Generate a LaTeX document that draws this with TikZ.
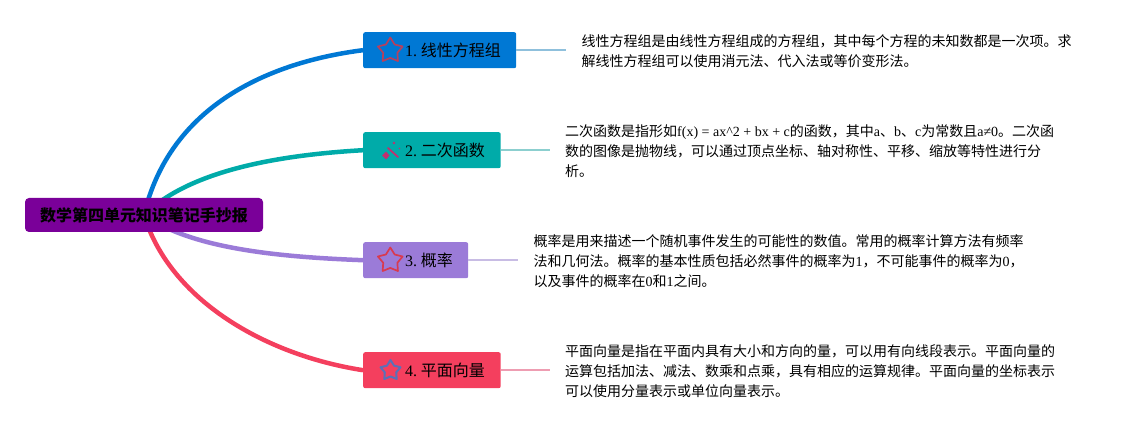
\documentclass[tikz,border=0pt]{standalone}
\usepackage{fontspec}
\setmainfont{Liberation Serif}
\newfontfamily\cjkf{Noto Sans CJK SC}
\newcommand\Z[1]{{\cjkf #1}}
\usetikzlibrary{shapes.geometric,backgrounds}
\definecolor{cblue}{HTML}{0078D4}
\definecolor{cteal}{HTML}{00ABA9}
\definecolor{cpurp}{HTML}{9B7BD8}
\definecolor{cred}{HTML}{F43F5E}
\definecolor{croot}{HTML}{7A0099}
\definecolor{sblue}{HTML}{8FC0DC}
\definecolor{steal}{HTML}{8CCFCF}
\definecolor{spurp}{HTML}{C8BCE4}
\definecolor{sred}{HTML}{EE9DB2}
\definecolor{istar}{HTML}{B5405E}
\definecolor{iwand}{HTML}{C03070}
\definecolor{ired}{HTML}{D83A50}
\definecolor{iblue}{HTML}{5A70B8}
\tikzset{
  box/.style={rectangle,rounded corners=2pt,inner sep=0pt,minimum height=36pt,anchor=north west,text=black,font=\fontsize{16}{18}\selectfont},
  desc/.style={anchor=west,align=left,inner ysep=0pt,text=black,font=\fontsize{14}{20}\selectfont},
  branch/.style={line width=4.5pt},
  stub/.style={line width=1.6pt},
  icon/.style={star,star points=5,star point ratio=1.75,draw,line width=1.7pt,line join=round,fill=none,inner sep=0pt,minimum size=26pt}
}
\newcommand\lab[3]{\makebox[#1pt][l]{\hspace{42pt}\raisebox{-.7pt}{#2\hspace{3.7pt}\Z{#3}}}}
\begin{document}
\begin{tikzpicture}[x=1pt,y=-1pt]
\useasboundingbox (0,0) rectangle (1141,430);
\node[rectangle,rounded corners=4pt,fill=croot,minimum width=238pt,minimum height=34pt,inner sep=0pt,text=black,font=\fontsize{16}{18}\selectfont\bfseries] (root) at (144,215) {\Z{数学第四单元知识笔记手抄报}};

\node[box,fill=cblue,minimum width=153pt] (b1) at (363,32) {\lab{153}{1.}{线性方程组}};
\node[box,fill=cteal,minimum width=137.5pt] (b2) at (363,132) {\lab{137.5}{2.}{二次函数}};
\node[box,fill=cpurp,minimum width=105pt] (b3) at (363,242) {\lab{105}{3.}{概率}};
\node[box,fill=cred,minimum width=137.5pt] (b4) at (363,352) {\lab{137.5}{4.}{平面向量}};

\node[desc,inner xsep=16pt] (d1) at (565.5,51.5) {\Z{线性方程组是由线性方程组成的方程组，其中每个方程的未知数都是一次项。求}\\\Z{解线性方程组可以使用消元法、代入法或等价变形法。}};
\node[desc,inner xsep=15pt] (d2) at (550,151.5) {\Z{二次函数是指形如}f(x) = ax\^{}2 + bx + c\Z{的函数，其中}a\Z{、}b\Z{、}c\Z{为常数且}a≠0\Z{。二次函}\\\Z{数的图像是抛物线，可以通过顶点坐标、轴对称性、平移、缩放等特性进行分}\\\Z{析。}};
\node[desc,inner xsep=16pt] (d3) at (517.5,261.5) {\Z{概率是用来描述一个随机事件发生的可能性的数值。常用的概率计算方法有频率}\\\Z{法和几何法。概率的基本性质包括必然事件的概率为}1\Z{，不可能事件的概率为}0\Z{，}\\\Z{以及事件的概率在}0\Z{和}1\Z{之间。}};
\node[desc,inner xsep=15pt] (d4) at (550,371.5) {\Z{平面向量是指在平面内具有大小和方向的量，可以用有向线段表示。平面向量的}\\\Z{运算包括加法、减法、数乘和点乘，具有相应的运算规律。平面向量的坐标表示}\\\Z{可以使用分量表示或单位向量表示。}};

% icons
\node[icon,draw=istar] (i1) at (390.3,50.5) {};
\node[icon,draw=ired] (i3) at (390.3,260.5) {};
\node[icon,draw=iblue,minimum size=21pt,line width=2pt] (i4) at (390.5,370.5) {};
\draw[line width=1.8pt,draw=iwand,line cap=round] (388,148) -- (398,157);
\fill[iwand] (382,155.5) -- (386,151.5) -- (389.5,155.5) -- (386,159.5) -- cycle;
\fill[iwand] (394,143) circle (1.3pt);
\fill[iwand] (399.5,148.5) circle (.8pt);

\begin{scope}[on background layer]
\draw[branch,cblue] (root.center) .. controls (170,105) and (270,62) .. (b1.west);
\draw[branch,cteal] (root.center) .. controls (190,170) and (280,155) .. (b2.west);
\draw[branch,cpurp] (root.center) .. controls (192,249) and (280,257) .. (b3.west);
\draw[branch,cred] (root.center) .. controls (170,300) and (265,355) .. (b4.west);
\end{scope}
\draw[stub,sblue] (b1.east) -- (b1.east -| d1.west);
\draw[stub,steal] (b2.east) -- (b2.east -| d2.west);
\draw[stub,spurp] (b3.east) -- (b3.east -| d3.west);
\draw[stub,sred] (b4.east) -- (b4.east -| d4.west);
\end{tikzpicture}
\end{document}
